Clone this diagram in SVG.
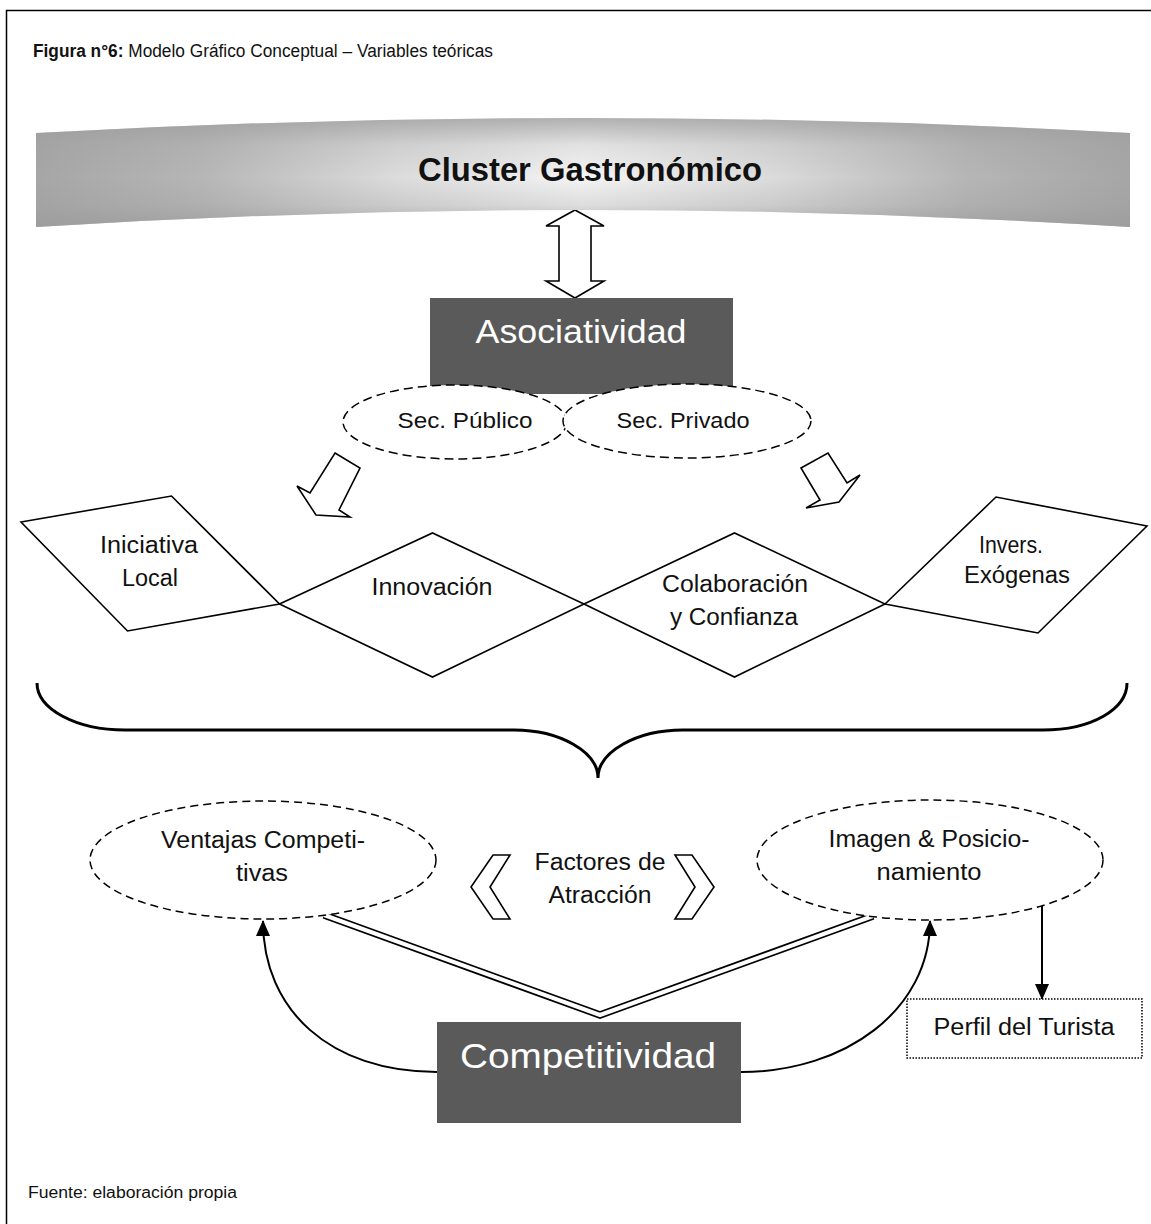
<svg xmlns="http://www.w3.org/2000/svg" width="1151" height="1224" viewBox="0 0 1151 1224">
  <defs>
    <style>
      .lbl { font-family: "Liberation Sans Narrow", "Liberation Sans", Arial, sans-serif; fill: #111; }
      .big { font-family: "Liberation Sans Narrow", "Liberation Sans", Arial, sans-serif; fill: #fff; }
      .shape { fill: #fff; stroke: #000; stroke-width: 1.6; }
      .dashed { fill: #fff; stroke: #000; stroke-width: 1.5; stroke-dasharray: 9 5; }
      .dark { fill: #5a5a5a; }
      .line { fill: none; stroke: #000; stroke-width: 2; }
    </style>
    <linearGradient id="bannerH" x1="0" y1="0" x2="1" y2="0">
      <stop offset="0" stop-color="#a6a6a6"/>
      <stop offset="0.15" stop-color="#b6b6b6"/>
      <stop offset="0.33" stop-color="#dcdcdc"/>
      <stop offset="0.5" stop-color="#f4f4f4"/>
      <stop offset="0.67" stop-color="#dcdcdc"/>
      <stop offset="0.85" stop-color="#b6b6b6"/>
      <stop offset="1" stop-color="#a6a6a6"/>
    </linearGradient>
    <linearGradient id="bannerV" x1="0" y1="0" x2="0" y2="1">
      <stop offset="0" stop-color="#9a9a9a" stop-opacity="0.75"/>
      <stop offset="0.25" stop-color="#9a9a9a" stop-opacity="0.2"/>
      <stop offset="0.55" stop-color="#9a9a9a" stop-opacity="0"/>
      <stop offset="0.8" stop-color="#9a9a9a" stop-opacity="0.25"/>
      <stop offset="1" stop-color="#9a9a9a" stop-opacity="0.75"/>
    </linearGradient>
    <marker id="head" viewBox="0 0 16 14" refX="15" refY="7" markerWidth="16" markerHeight="14" markerUnits="userSpaceOnUse" orient="auto">
      <path d="M0,0 L16,7 L0,14 Z" fill="#000"/>
    </marker>
  </defs>

  <rect width="1151" height="1224" fill="#fff"/>
  <!-- outer frame (open on right and bottom) -->
  <path d="M6.5,1224 L6.5,10.5 L1151,10.5" fill="none" stroke="#000" stroke-width="1.5"/>

  <text class="lbl" x="33" y="57" font-size="18" textLength="460" lengthAdjust="spacingAndGlyphs"><tspan font-weight="bold">Figura n°6:</tspan> Modelo Gráfico Conceptual – Variables teóricas</text>

  <!-- connectors -->
  <g id="connectors">
    <!-- two-way block arrow between cluster and asociatividad -->
    <polygon class="shape" points="575,210 604,226 591,226 591,281 604,281 575,298 546,281 559,281 559,226 546,226"/>
    <!-- hollow block arrows from the sectors -->
    <polygon class="shape" points="335,453 360,468 339,510 350,517 316,515 297,486 310,493"/>
    <polygon class="shape" points="801,468 828,453 847,483 860,475 839,502 806,508 820,500"/>
    <!-- curly brace -->
    <path d="M37,683 C37,709 76,730 125,730 L514,730 C560,730 598,752 598,778 C598,752 636,730 683,730 L1043,730 C1092,730 1127,709 1127,683" fill="none" stroke="#000" stroke-width="3"/>
    <!-- double line V from competitividad -->
    <polyline points="324,915 600,1015 873,916" fill="none" stroke="#000" stroke-width="7.5" stroke-linejoin="miter"/>
    <polyline points="324,915 600,1015 873,916" fill="none" stroke="#fff" stroke-width="4" stroke-linejoin="miter"/>
    <!-- curved arrows -->
    <path class="line" d="M437,1072 C330,1072 263,1010 263,921" marker-end="url(#head)"/>
    <path class="line" d="M741,1072 C845,1072 930,1010 930,921" marker-end="url(#head)"/>
    <path class="line" d="M1042,906 L1042,999" marker-end="url(#head)"/>
  </g>

  <!-- banner -->
  <g id="cluster">
    <path d="M36,133 Q583,103 1130,133 L1130,227 Q583,193 36,227 Z" fill="url(#bannerH)"/>
    <path d="M36,133 Q583,103 1130,133 L1130,227 Q583,193 36,227 Z" fill="url(#bannerV)"/>
    <text class="lbl" x="590" y="181" font-size="33" font-weight="bold" text-anchor="middle" textLength="344" lengthAdjust="spacingAndGlyphs">Cluster Gastronómico</text>
  </g>

  <g id="asociatividad">
    <rect class="dark" x="430" y="298" width="303" height="96"/>
    <text class="big" x="581" y="343" font-size="33" text-anchor="middle" textLength="211" lengthAdjust="spacingAndGlyphs">Asociatividad</text>
  </g>

  <g id="sec-publico">
    <ellipse class="dashed" cx="455" cy="422" rx="112" ry="37"/>
    <text class="lbl" x="465" y="428" font-size="22" text-anchor="middle" textLength="135" lengthAdjust="spacingAndGlyphs">Sec. Público</text>
  </g>
  <g id="sec-privado">
    <ellipse class="dashed" cx="687" cy="421" rx="124" ry="37"/>
    <text class="lbl" x="683" y="428" font-size="22" text-anchor="middle" textLength="133" lengthAdjust="spacingAndGlyphs">Sec. Privado</text>
  </g>

  <g id="iniciativa-local">
    <polygon class="shape" points="21,522 171.5,496 279.5,604 127.5,631"/>
    <text class="lbl" x="149" y="553" font-size="23" text-anchor="middle" textLength="98" lengthAdjust="spacingAndGlyphs">Iniciativa</text>
    <text class="lbl" x="150" y="586" font-size="23" text-anchor="middle" textLength="56" lengthAdjust="spacingAndGlyphs">Local</text>
  </g>

  <g id="innovacion">
    <polygon class="shape" points="279.5,604 432.5,533 584,604 432.5,677"/>
    <text class="lbl" x="432" y="595" font-size="23" text-anchor="middle" textLength="121" lengthAdjust="spacingAndGlyphs">Innovación</text>
  </g>

  <g id="colaboracion">
    <polygon class="shape" points="584,604 734.5,533 885,604 734.5,677"/>
    <text class="lbl" x="735" y="592" font-size="23" text-anchor="middle" textLength="146" lengthAdjust="spacingAndGlyphs">Colaboración</text>
    <text class="lbl" x="734" y="625" font-size="23" text-anchor="middle" textLength="128" lengthAdjust="spacingAndGlyphs">y Confianza</text>
  </g>

  <g id="invers-exogenas">
    <polygon class="shape" points="885,604 996,497 1147,526 1038,633"/>
    <text class="lbl" x="1011" y="553" font-size="23" text-anchor="middle" textLength="64" lengthAdjust="spacingAndGlyphs">Invers.</text>
    <text class="lbl" x="1017" y="583" font-size="23" text-anchor="middle" textLength="106" lengthAdjust="spacingAndGlyphs">Exógenas</text>
  </g>

  <g id="ventajas">
    <ellipse class="dashed" cx="263" cy="860" rx="173" ry="59" style="stroke-dasharray: 8 5"/>
    <text class="lbl" x="263" y="848" font-size="23" text-anchor="middle" textLength="204" lengthAdjust="spacingAndGlyphs">Ventajas Competi-</text>
    <text class="lbl" x="262" y="881" font-size="23" text-anchor="middle" textLength="52" lengthAdjust="spacingAndGlyphs">tivas</text>
  </g>

  <g id="factores">
    <polygon class="shape" points="493,855 510,855 490,887 510,919 493,919 471,887"/>
    <polygon class="shape" points="692,855 675,855 695,887 675,919 692,919 714,887"/>
    <text class="lbl" x="600" y="870" font-size="23" text-anchor="middle" textLength="131" lengthAdjust="spacingAndGlyphs">Factores de</text>
    <text class="lbl" x="600" y="903" font-size="23" text-anchor="middle" textLength="103" lengthAdjust="spacingAndGlyphs">Atracción</text>
  </g>

  <g id="imagen">
    <ellipse class="dashed" cx="930" cy="860" rx="173" ry="60" style="stroke-dasharray: 8 5"/>
    <text class="lbl" x="929" y="847" font-size="23" text-anchor="middle" textLength="201" lengthAdjust="spacingAndGlyphs">Imagen &amp; Posicio-</text>
    <text class="lbl" x="929" y="880" font-size="23" text-anchor="middle" textLength="105" lengthAdjust="spacingAndGlyphs">namiento</text>
  </g>

  <g id="competitividad">
    <rect class="dark" x="437" y="1022" width="304" height="101"/>
    <text class="big" x="588" y="1068" font-size="35" text-anchor="middle" textLength="256" lengthAdjust="spacingAndGlyphs">Competitividad</text>
  </g>

  <g id="perfil">
    <rect x="907" y="999" width="235" height="59" fill="#fff" stroke="#000" stroke-width="1.5" stroke-dasharray="1.5 1.5"/>
    <text class="lbl" x="1024" y="1035" font-size="23" text-anchor="middle" textLength="181" lengthAdjust="spacingAndGlyphs">Perfil del Turista</text>
  </g>

  <text class="lbl" x="28" y="1198" font-size="16" textLength="209" lengthAdjust="spacingAndGlyphs">Fuente: elaboración propia</text>
</svg>
